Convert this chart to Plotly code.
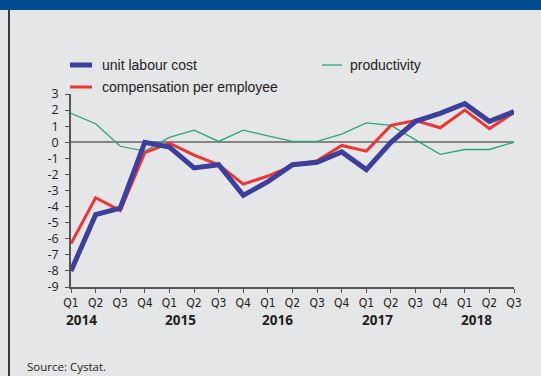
import plotly.graph_objects as go

# Quarterly growth rates, 2014 Q1 – 2018 Q3 (% y-o-y)
quarters = ["Q1", "Q2", "Q3", "Q4"] * 4 + ["Q1", "Q2", "Q3"]
years = ["2014", "2015", "2016", "2017", "2018"]
year_pos = [0.43, 4.43, 8.38, 12.44, 16.47]
y_ticks = list(range(-9, 4))
y_tick_labels = [str(v) for v in y_ticks]  # plain hyphen-minus labels

unit_labour_cost = [-8.0, -4.5, -4.1, 0.0, -0.3, -1.6, -1.4, -3.3, -2.45, -1.4,
                    -1.25, -0.6, -1.7, 0.0, 1.3, 1.8, 2.4, 1.3, 1.9]
compensation = [-6.3, -3.45, -4.25, -0.65, -0.05, -0.8, -1.4, -2.6, -2.1, -1.45,
                -1.15, -0.2, -0.55, 1.05, 1.35, 0.9, 2.0, 0.85, 1.85]
productivity = [1.8, 1.15, -0.25, -0.55, 0.3, 0.75, 0.05, 0.75, 0.4, 0.05,
                0.05, 0.5, 1.2, 1.05, 0.15, -0.75, -0.45, -0.45, 0.0]

W, H = 541, 376
ML, MR, MT, MB = 71, 27, 94, 89
PW, PH = W - ML - MR, H - MT - MB

BLUE = "#3d3f9d"
RED = "#ef3434"
GREEN = "#2fa37a"
TXT = "#231f20"
BG = "#e5e6e8"


def px(x):
    return (x - ML) / PW


def py(y):
    return (H - MB - y) / PH


idx = list(range(len(quarters)))

fig = go.Figure()
fig.add_trace(go.Scatter(x=idx, y=productivity, mode="lines",
                         line=dict(color=GREEN, width=1.3), name="productivity"))
fig.add_trace(go.Scatter(x=idx, y=compensation, mode="lines",
                         line=dict(color=RED, width=3), name="compensation per employee"))
fig.add_trace(go.Scatter(x=idx, y=unit_labour_cost, mode="lines",
                         line=dict(color=BLUE, width=5), name="unit labour cost"))

shapes = [
    # header band
    dict(type="rect", xref="paper", yref="paper", x0=px(0), x1=px(W), y0=py(10), y1=py(-2),
         fillcolor="#004a8f", line=dict(width=0), layer="above"),
    # left frame line
    dict(type="line", xref="paper", yref="paper", x0=px(9), x1=px(9), y0=py(10), y1=py(H + 2),
         line=dict(color="#3a3a3a", width=2)),
]

annotations = []

# legend
legend_items = [
    (BLUE, 5, 70, 92, 65, 100, "unit labour cost"),
    (GREEN, 1.3, 322, 342, 65, 348, "productivity"),
    (RED, 3, 70, 92, 87, 100, "compensation per employee"),
]
for color, w, x0, x1, y, tx, label in legend_items:
    shapes.append(dict(type="line", xref="paper", yref="paper", x0=px(x0), x1=px(x1),
                       y0=py(y), y1=py(y), line=dict(color=color, width=w)))
    annotations.append(dict(xref="paper", yref="paper", x=px(tx), y=py(y), text=label,
                            showarrow=False, xanchor="left", yanchor="middle",
                            font=dict(family="Liberation Sans, Arial, sans-serif",
                                      size=14, color=TXT)))

# year labels below the quarter ticks
for yr, pos in zip(years, year_pos):
    annotations.append(dict(xref="x", yref="paper", x=pos, y=py(320), text=f"<b>{yr}</b>",
                            showarrow=False, xanchor="center", yanchor="middle",
                            font=dict(family="Open Sans, sans-serif", size=13.5, color=TXT)))

annotations.append(dict(xref="paper", yref="paper", x=px(25), y=py(366), text="Source: Cystat.",
                        showarrow=False, xanchor="left", yanchor="middle",
                        font=dict(family="Open Sans, sans-serif", size=11.5, color=TXT)))

fig.update_layout(
    width=W, height=H,
    margin=dict(l=ML, r=MR, t=MT, b=MB, pad=0),
    paper_bgcolor=BG, plot_bgcolor=BG,
    showlegend=False,
    shapes=shapes,
    annotations=annotations,
    xaxis=dict(range=[0, 18], tickmode="array", tickvals=idx, ticktext=quarters,
               showgrid=False, zeroline=False, showline=True, linecolor="#555555",
               linewidth=1.5, ticks="outside", ticklen=4, tickcolor="#555555", tickwidth=1,
               tickfont=dict(family="Liberation Sans Narrow, Arial Narrow, DejaVu Sans Condensed, sans-serif",
                             size=12, color=TXT),
               fixedrange=True),
    yaxis=dict(range=[-9, 3], tickmode="array", tickvals=y_ticks, ticktext=y_tick_labels,
               showgrid=False,
               zeroline=True, zerolinecolor="#858585", zerolinewidth=2,
               showline=True, linecolor="#555555", linewidth=1.5,
               ticks="outside", ticklen=4, tickcolor="#555555", tickwidth=1,
               ticklabelstandoff=4,
               tickfont=dict(family="Open Sans, sans-serif", size=12.5, color=TXT),
               fixedrange=True),
)

fig.write_html("out.html", config={"displayModeBar": False})
